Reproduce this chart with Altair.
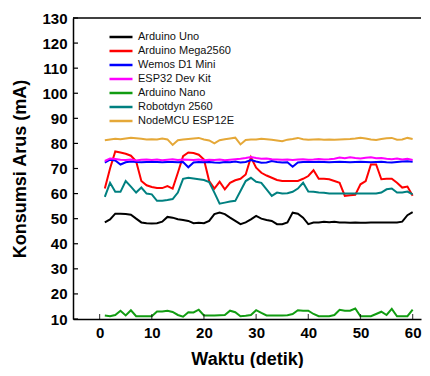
import altair as alt
import pandas as pd

names = ["Arduino Uno", "Arduino Mega2560", "Wemos D1 Mini", "ESP32 Dev Kit",
         "Arduino Nano", "Robotdyn 2560", "NodeMCU ESP12E"]
colors = ["#000000", "#ff0000", "#0000ff", "#ff00ff", "#119c11", "#008080", "#e5a838"]

t = list(range(1, 61))

uno = [48.5, 49.7, 52.0, 52.0, 51.9, 51.6, 50.0, 48.5, 48.2, 48.1,
       48.2, 48.8, 50.7, 50.4, 49.8, 49.5, 49.1, 48.2, 48.4, 48.2,
       49.1, 51.8, 52.4, 51.8, 50.4, 49.1, 47.8, 48.5, 49.7, 51.1,
       50.0, 49.5, 49.1, 47.8, 47.8, 48.5, 52.4, 52.0, 50.4, 47.8,
       48.5, 48.5, 48.8, 48.6, 48.8, 48.5, 48.5, 48.4, 48.5, 48.4,
       48.4, 48.5, 48.5, 48.5, 48.5, 48.5, 48.5, 48.8, 51.4, 52.6]

mega = [62.0, 70.0, 76.8, 76.4, 75.9, 75.1, 72.9, 65.0, 63.3, 62.6,
        62.2, 62.2, 63.0, 62.0, 68.3, 74.9, 76.4, 76.2, 75.5, 73.6,
        65.0, 62.0, 64.7, 61.7, 64.3, 65.3, 65.9, 67.6, 74.5, 70.3,
        68.3, 67.2, 66.3, 65.4, 65.0, 65.0, 65.0, 65.0, 65.9, 67.0,
        69.3, 65.9, 65.9, 65.7, 65.0, 64.3, 59.1, 59.3, 59.5, 63.7,
        65.0, 71.6, 71.6, 65.7, 65.9, 65.9, 64.3, 62.4, 62.8, 59.1]

wemos = [72.3, 73.5, 73.2, 71.6, 72.5, 72.8, 72.6, 72.5, 72.6, 72.7,
         72.6, 72.5, 72.6, 72.6, 72.5, 72.6, 70.5, 72.4, 72.6, 72.5,
         72.6, 72.4, 72.3, 72.6, 72.5, 72.8, 72.4, 72.6, 73.4, 72.8,
         72.3, 72.4, 73.0, 72.6, 72.4, 72.5, 70.7, 72.4, 72.6, 72.7,
         72.6, 72.7, 72.6, 72.5, 72.6, 72.7, 72.6, 72.5, 72.6, 72.7,
         72.6, 72.5, 72.6, 72.7, 72.5, 72.4, 72.6, 72.8, 72.9, 72.7]

esp32 = [73.0, 74.0, 73.8, 73.5, 73.4, 73.6, 73.2, 73.5, 73.6, 73.4,
         73.6, 73.3, 73.5, 73.7, 73.4, 73.6, 73.5, 73.4, 73.6, 73.3,
         73.5, 73.4, 73.6, 73.3, 73.5, 73.7, 73.9, 74.2, 74.6, 74.2,
         73.9, 74.0, 73.7, 73.6, 73.5, 73.6, 73.4, 73.6, 73.7, 73.5,
         73.6, 73.8, 73.6, 73.7, 73.9, 74.4, 74.1, 74.5, 74.2, 74.0,
         74.3, 74.5, 74.1, 74.2, 73.9, 73.7, 74.0, 73.6, 73.9, 73.4]

nano = [11.4, 11.1, 11.6, 13.3, 11.4, 13.5, 11.1, 11.1, 11.1, 11.1,
        13.0, 13.0, 13.3, 12.8, 11.6, 10.9, 12.7, 12.6, 13.7, 11.4,
        11.4, 11.4, 11.5, 11.6, 13.3, 12.7, 11.1, 11.3, 11.6, 13.5,
        12.4, 11.4, 11.4, 11.4, 11.4, 11.5, 12.0, 13.5, 13.3, 13.3,
        12.0, 11.1, 11.1, 11.1, 11.6, 13.7, 13.3, 13.3, 14.2, 11.1,
        11.1, 11.1, 12.0, 12.9, 11.6, 14.0, 11.1, 11.1, 11.1, 13.7]

robotdyn = [58.7, 64.3, 60.7, 60.7, 65.0, 62.8, 60.4, 62.4, 60.0, 59.7,
            57.1, 57.1, 57.4, 57.8, 60.4, 65.9, 66.3, 66.0, 65.7, 65.4,
            64.6, 60.4, 56.0, 56.4, 56.8, 57.1, 61.0, 65.0, 66.3, 64.7,
            64.3, 61.7, 59.1, 60.4, 60.0, 60.1, 60.7, 62.0, 64.3, 60.8,
            60.7, 60.4, 60.3, 60.0, 60.0, 60.0, 60.0, 60.0, 60.0, 60.0,
            60.0, 60.0, 60.0, 60.4, 61.7, 62.0, 60.4, 60.4, 60.8, 59.7]

nodemcu = [81.3, 81.6, 81.9, 81.7, 82.0, 82.3, 82.1, 81.9, 81.6, 81.7,
           81.6, 82.0, 81.6, 79.4, 81.3, 81.6, 81.8, 82.0, 82.2, 81.6,
           81.2, 80.0, 81.3, 81.7, 82.0, 82.3, 79.6, 81.4, 81.6, 81.6,
           81.9, 81.7, 81.5, 81.2, 80.9, 81.5, 81.8, 82.2, 81.7, 81.5,
           81.6, 81.7, 81.5, 81.6, 81.5, 81.6, 81.7, 81.8, 82.0, 82.3,
           82.0, 81.6, 81.4, 81.8, 82.1, 82.2, 81.5, 81.6, 82.2, 81.8]

y_ticks = list(range(10, 131, 10))
x_ticks = list(range(0, 61, 10))

series = [uno, mega, wemos, esp32, nano, robotdyn, nodemcu]
rows = []
for name, vals in zip(names, series):
    for ti, v in zip(t, vals):
        rows.append({"t": ti, "v": v, "device": name})
df = pd.DataFrame(rows)

FONT = "Liberation Sans"
xscale = alt.Scale(domain=[-5.1, 61.6], nice=False, zero=False)
yscale = alt.Scale(domain=[10, 130], nice=False, zero=False)
xaxis = alt.Axis(values=x_ticks, title="Waktu (detik)", format="d", labelOverlap=False)
yaxis = alt.Axis(values=y_ticks, title="Konsumsi Arus (mA)", format="d", labelOverlap=False)

lines = alt.Chart(df).mark_line(strokeWidth=2, clip=True).encode(
    x=alt.X("t:Q", scale=xscale, axis=xaxis),
    y=alt.Y("v:Q", scale=yscale, axis=yaxis),
    color=alt.Color("device:N",
                    scale=alt.Scale(domain=names, range=colors),
                    legend=alt.Legend(title=None, orient="none", legendX=35, legendY=13,
                                      symbolType="stroke", symbolSize=529,
                                      symbolStrokeWidth=2.5, labelFontSize=11,
                                      labelFont=FONT, labelColor="#111111",
                                      clipHeight=12, rowPadding=2, padding=0,
                                      labelOffset=4)),
    detail="device:N",
)

top_rule = alt.Chart(pd.DataFrame({"y": [130]})).mark_rule(
    color="black", strokeWidth=1.5).encode(y=alt.Y("y:Q", scale=yscale, axis=yaxis))

ytk = alt.Chart(pd.DataFrame({"v": y_ticks})).mark_rule(
    color="black", strokeWidth=1.2).encode(
    y=alt.Y("v:Q", scale=yscale, axis=yaxis), x=alt.value(0), x2=alt.value(5))

xtk = alt.Chart(pd.DataFrame({"v": x_ticks, "lo": [10] * len(x_ticks)})).mark_tick(
    color="black", thickness=1.2, size=5, orient="vertical", yOffset=-2.5).encode(
    x=alt.X("v:Q", scale=xscale, axis=xaxis),
    y=alt.Y("lo:Q", scale=yscale, axis=yaxis))

chart = alt.layer(lines, top_rule, ytk, xtk).properties(
    width=414, height=360,
    autosize=alt.AutoSizeParams(type="fit", contains="padding"),
    padding={"left": 3, "top": 3, "right": 0, "bottom": 0},
).configure_view(stroke=None).configure_axis(
    grid=False, domainColor="black", domainWidth=1.5, ticks=False,
    labelOverlap=False,
    labelFont=FONT, labelFontSize=15, labelFontWeight="bold", labelColor="black",
    titleFont=FONT, titleFontSize=18, titleFontWeight="bold", titleColor="black",
).configure_axisX(labelPadding=6, titlePadding=10).configure_axisY(
    labelPadding=6, titlePadding=12)

chart.save("out.html", embed_options={"renderer": "svg", "actions": False})
